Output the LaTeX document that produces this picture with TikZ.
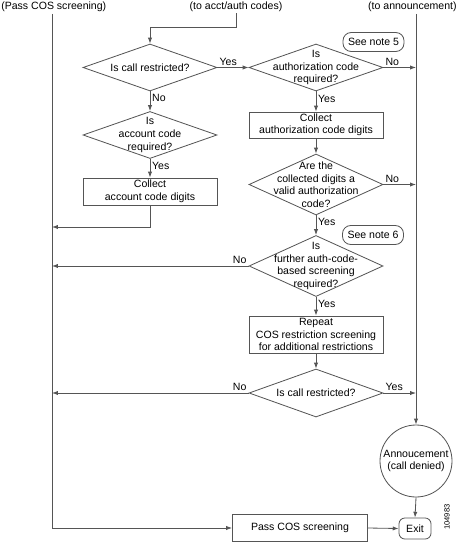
\documentclass[tikz,border=0pt]{standalone}
\usepackage{fontspec}
\setmainfont{Liberation Sans}
\usetikzlibrary{shapes.geometric,arrows.meta}
\definecolor{linegray}{RGB}{85,85,85}

\begin{document}
\begin{tikzpicture}[x=0.03cm,y=-0.03cm,
		font=\fontsize{9}{10.7}\selectfont,
		line/.style={draw=linegray,line width=0.7pt},
		arr/.style={line,-{Latex[length=5pt,width=3.6pt]}},
		dia/.style={line,diamond,inner sep=0pt,minimum width=4.02cm,minimum height=1.41cm},
		tall/.style={dia,minimum height=1.83cm},
		box/.style={line,rectangle,inner sep=0pt,minimum width=4.02cm,align=center},
		note/.style={line,rounded corners=7pt,inner sep=0pt,minimum width=1.83cm,minimum height=0.57cm},
		lbl/.style={inner sep=1.5pt}]
		
		\useasboundingbox (0,0) rectangle (458,542);
		
		\node[inner sep=0.5pt,anchor=west] (t1) at (0.5, 7) {(Pass COS screening)};
		\node[inner sep=1pt] (t2) at (236, 7) {(to acct/auth codes)};
		\node[inner sep=0.5pt,anchor=east] (t3) at (457.5, 7) {(to announcement)};
		\coordinate (lt) at ( 52,14);
		\coordinate (rt) at (416,14);
		\coordinate (l1) at ( 52,227);
		
		\node[dia,label={[align=center]center:Is call restricted?}] (d1) at (150, 67.5) {};
		\node[dia,label={[align=center]center:{Is\\authorization code\\required?}}] (d2) at (316, 67.5) {};
		\node[dia,label={[align=center]center:{Is\\account code\\required?}}] (d3) at (150,135) {};
		\node[box,minimum height=0.81cm] (b1) at (150,191.5) {Collect\\account code digits};
		\node[box,minimum height=0.78cm] (b2) at (316,125) {Collect\\authorization code digits};
		\node[tall,label={[align=center]center:{Are the\\collected digits a\\valid authorization\\code?}}] (d4) at (316,184.5) {};
		\node[tall,label={[align=center]center:{Is\\further auth-code-\\based screening\\required?}}] (d5) at (316,266) {};
		\node[box,minimum height=1.11cm] (b3) at (316,334.5) {Repeat\\COS restriction screening\\for additional restrictions};
		\node[dia,minimum height=1.44cm,label={[align=center]center:Is call restricted?}] (d6) at (316,393) {};
		
		\node[note] (n5) at (373.5,42) {See note 5};
		\node[note] (n6) at (373,235) {See note 6};
		
		\node[line,circle,inner sep=0pt,minimum size=2.16cm,align=center] (ann) at (416,461) {Annoucement\\(call denied)};
		\node[line,rounded corners=5pt,inner sep=0pt,minimum width=0.96cm,minimum height=0.63cm] (exit) at (415,528.5) {Exit};
		\node[box,minimum width=4.05cm,minimum height=0.81cm] (pass) at (300,528) {Pass COS screening};
		\node[rotate=90,font=\fontsize{6.5}{7}\selectfont] (id) at (447,517) {104983};
		
		\draw[arr] (t2.south) -- ++(0,14) -| (d1.north);
		\draw[arr] (d1.east) to node[lbl,above right,pos=0] {Yes} (d2.west);
		\draw[arr] (d1.south) to node[lbl,right,pos=0.35] {No} (d3.north);
		\draw[arr] (d3.south) to node[lbl,right,pos=0.35] {Yes} (b1.north);
		\draw[arr] (b1.south) |- (l1);
		
		\draw[arr] (d2.east) to node[lbl,above right,pos=0] {No} (d2.east -| rt);
		\draw[arr] (d2.south) to node[lbl,right,pos=0.35] {Yes} (b2.north);
		\draw[arr] (b2.south) to (d4.north);
		\draw[arr] (d4.east) to node[lbl,above right,pos=0] {No} (d4.east -| rt);
		\draw[arr] (d4.south) to node[lbl,right,pos=0.35] {Yes} (d5.north);
		\draw[arr] (d5.west) to node[lbl,above left,pos=0] {No} (d5.west -| lt);
		\draw[arr] (d5.south) to node[lbl,right,pos=0.35] {Yes} (b3.north);
		\draw[arr] (b3.south) to (d6.north);
		\draw[arr] (d6.west) to node[lbl,above left,pos=0] {No} (d6.west -| lt);
		\draw[arr] (d6.east) to node[lbl,above right,pos=0] {Yes} (d6.east -| rt);
		
		\draw[arr] (lt) |- (pass.west);
		\draw[arr] (rt) -- (ann.north);
		\draw[arr] (ann.south) -- (exit.north);
		\draw[arr] (pass.east) -- (exit.west);
		
	\end{tikzpicture}
\end{document}
